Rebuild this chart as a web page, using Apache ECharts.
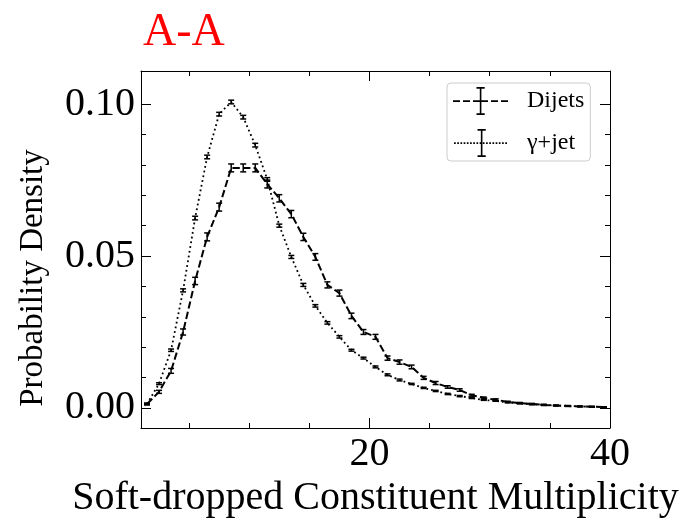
<!DOCTYPE html>
<html>
<head>
<meta charset="utf-8">
<script src="https://cdn.jsdelivr.net/npm/echarts@6/dist/echarts.min.js"></script>
<style>
  html, body { margin: 0; padding: 0; background: #fff; }
  #chart { width: 681px; height: 521px; }
</style>
</head>
<body>
<div id="chart"></div>
<script>
// bin centres (constituent multiplicity)
const xs = [1.5, 2.5, 3.5, 4.5, 5.5, 6.5, 7.5, 8.5, 9.5, 10.5,
  11.5, 12.5, 13.5, 14.5, 15.5, 16.5, 17.5, 18.5, 19.5, 20.5,
  21.5, 22.5, 23.5, 24.5, 25.5, 26.5, 27.5, 28.5, 29.5, 30.5,
  31.5, 32.5, 33.5, 34.5, 35.5, 36.5, 37.5, 38.5, 39.5];

const dijets = [0.0013, 0.0053, 0.0122, 0.025, 0.0418, 0.0563, 0.0661, 0.079, 0.079, 0.079,
  0.0737, 0.069, 0.0638, 0.0563, 0.0497, 0.0405, 0.0378, 0.0303, 0.025, 0.0234,
  0.0164, 0.0151, 0.0135, 0.0099, 0.0082, 0.0069, 0.0059, 0.0042, 0.0033, 0.0027,
  0.002, 0.0016, 0.0013, 0.001, 0.0008, 0.0006, 0.0005, 0.0004, 0.0003];
const dijetsErr = [0.0003, 0.0005, 0.0008, 0.001, 0.0012, 0.0013, 0.0013, 0.0013, 0.0013, 0.0013,
  0.0013, 0.0012, 0.0012, 0.0012, 0.0011, 0.001, 0.001, 0.0009, 0.0008, 0.0008,
  0.0007, 0.0007, 0.0006, 0.0005, 0.0005, 0.0004, 0.0004, 0.0003, 0.0003, 0.0003,
  0.0002, 0.0002, 0.0002, 0.0002, 0.0001, 0.0001, 0.0001, 0.0001, 0.0001];

const gammaJet = [0.0013, 0.008, 0.019, 0.0387, 0.0625, 0.0826, 0.0967, 0.1007, 0.0957, 0.0865,
  0.0752, 0.06, 0.0497, 0.0405, 0.0336, 0.028, 0.0234, 0.019, 0.0164, 0.0135,
  0.0109, 0.0092, 0.0079, 0.0066, 0.0056, 0.0046, 0.0039, 0.0033, 0.0026, 0.0023,
  0.0018, 0.0015, 0.0012, 0.001, 0.0008, 0.0007, 0.0005, 0.0004, 0.0003];
const gammaJetErr = [0.0002, 0.0003, 0.0004, 0.0005, 0.0006, 0.0006, 0.0006, 0.0006, 0.0006, 0.0006,
  0.0006, 0.0005, 0.0005, 0.0005, 0.0004, 0.0004, 0.0004, 0.0003, 0.0003, 0.0003,
  0.0003, 0.0003, 0.0002, 0.0002, 0.0002, 0.0002, 0.0002, 0.0002, 0.0001, 0.0001,
  0.0001, 0.0001, 0.0001, 0.0001, 0.0001, 0.0001, 0.0001, 0.0001, 0.0001];

const xMajorTicks = [20, 40];
const xMinorTicks = [5, 10, 15, 25, 30, 35];
const yMajorTicks = [0, 0.05, 0.1];
const yMinorTicks = [0.01, 0.02, 0.03, 0.04, 0.06, 0.07, 0.08, 0.09];

const FONT = "'Liberation Serif', 'DejaVu Serif', serif";

// legend handle: line pattern with an error bar through the middle
function handlePath(dotted) {
  const w = 55, h = 28, y = 13.2, t = 1.7;
  let d = '';
  if (dotted) {
    for (let x = 0; x + t <= w; x += 3.2) d += `M${x},${y}h${t}v${t}h-${t}z`;
  } else {
    [[0, 7], [10, 17], [20, 35], [38, 45], [48, 55]].forEach(([a, b]) => {
      d += `M${a},${y}h${b - a}v${t}h-${b - a}z`;
    });
  }
  d += 'M26.8,0h1.6v28h-1.6z';
  d += 'M23.5,0h8.2v1.7h-8.2z';
  d += `M23.5,${h - 1.7}h8.2v1.7h-8.2z`;
  return 'path://' + d;
}

function errorBars(name, vals, errs, half) {
  return {
    name,
    type: 'custom',
    xAxisIndex: 0,
    yAxisIndex: 0,
    z: 3,
    clip: true,
    data: xs.map((x, i) => [x, vals[i] - errs[i], vals[i] + errs[i]]),
    renderItem: (params, api) => {
      const lo = api.coord([api.value(0), api.value(1)]);
      const hi = api.coord([api.value(0), api.value(2)]);
      const style = { stroke: '#000', lineWidth: 1.5 };
      return {
        type: 'group',
        children: [
          { type: 'line', shape: { x1: lo[0], y1: lo[1], x2: hi[0], y2: hi[1] }, style },
          { type: 'line', shape: { x1: lo[0] - half, y1: lo[1], x2: lo[0] + half, y2: lo[1] }, style },
          { type: 'line', shape: { x1: hi[0] - half, y1: hi[1], x2: hi[0] + half, y2: hi[1] }, style }
        ]
      };
    }
  };
}

const frame = { show: true, onZero: false, lineStyle: { color: '#000', width: 1 } };
const noLine = { show: false, onZero: false };

function xAxisDef(position, ticks, len, labels) {
  return {
    type: 'value', position, min: 1, max: 40,
    axisLine: len === 10 ? frame : noLine,
    axisTick: { show: true, inside: true, length: len, customValues: ticks, lineStyle: { color: '#000', width: 1 } },
    axisLabel: labels ? {
      show: true, customValues: ticks, margin: 6, color: '#000', fontSize: 40, fontFamily: FONT
    } : { show: false },
    splitLine: { show: false }
  };
}

function yAxisDef(position, ticks, len, labels) {
  return {
    type: 'value', position, min: -0.0066, max: 0.1109,
    axisLine: len === 10 ? frame : noLine,
    axisTick: { show: true, inside: true, length: len, customValues: ticks, lineStyle: { color: '#000', width: 1 } },
    axisLabel: labels ? {
      show: true, customValues: ticks, margin: 6, color: '#000', fontSize: 40, fontFamily: FONT,
      formatter: (v) => v.toFixed(2)
    } : { show: false },
    splitLine: { show: false }
  };
}

const xBottom = xAxisDef('bottom', xMajorTicks, 10, true);
xBottom.name = 'Soft-dropped Constituent Multiplicity';
xBottom.nameLocation = 'middle';
xBottom.nameGap = 47;
xBottom.nameTextStyle = { color: '#000', fontSize: 40, fontFamily: FONT };

const chart = echarts.init(document.getElementById('chart'));
chart.setOption({
  animation: false,
  backgroundColor: '#fff',
  title: {
    text: 'A-A',
    left: 138,
    top: 5,
    textStyle: { color: 'red', fontSize: 46, fontWeight: 'normal', fontFamily: FONT }
  },
  graphic: [{
    type: 'text',
    x: 33,
    y: 278,
    rotation: Math.PI / 2,
    style: {
      text: 'Probability Density',
      fill: '#000',
      font: `33px ${FONT}`,
      align: 'center',
      verticalAlign: 'middle'
    }
  }],
  legend: {
    orient: 'vertical',
    left: 447,
    top: 83,
    padding: [4, 6, 4, 6],
    itemWidth: 55,
    itemHeight: 28,
    itemGap: 14,
    backgroundColor: '#fff',
    borderColor: '#cccccc',
    borderWidth: 1,
    borderRadius: 4,
    textStyle: { color: '#000', fontSize: 24, fontFamily: FONT, padding: [0, 0, 0, 14] },
    data: [
      { name: 'Dijets', icon: handlePath(false) },
      { name: 'γ+jet', icon: handlePath(true) }
    ]
  },
  grid: { left: 141, right: 71, top: 71, bottom: 93, containLabel: false, outerBoundsMode: 'none' },
  xAxis: [
    xBottom,
    xAxisDef('bottom', xMinorTicks, 5, false),
    xAxisDef('top', xMajorTicks, 10, false),
    xAxisDef('top', xMinorTicks, 5, false)
  ],
  yAxis: [
    yAxisDef('left', yMajorTicks, 10, true),
    yAxisDef('left', yMinorTicks, 5, false),
    yAxisDef('right', yMajorTicks, 10, false),
    yAxisDef('right', yMinorTicks, 5, false)
  ],
  series: [
    {
      name: 'Dijets',
      type: 'line',
      xAxisIndex: 0,
      yAxisIndex: 0,
      showSymbol: false,
      color: '#000',
      lineStyle: { color: '#000', width: 2, type: [7.4, 3.2] },
      data: xs.map((x, i) => [x, dijets[i]])
    },
    errorBars('Dijets', dijets, dijetsErr, 3),
    {
      name: 'γ+jet',
      type: 'line',
      xAxisIndex: 0,
      yAxisIndex: 0,
      showSymbol: false,
      color: '#000',
      lineStyle: { color: '#000', width: 1.8, type: [1.8, 3] },
      data: xs.map((x, i) => [x, gammaJet[i]])
    },
    errorBars('γ+jet', gammaJet, gammaJetErr, 3)
  ]
});
</script>
</body>
</html>
